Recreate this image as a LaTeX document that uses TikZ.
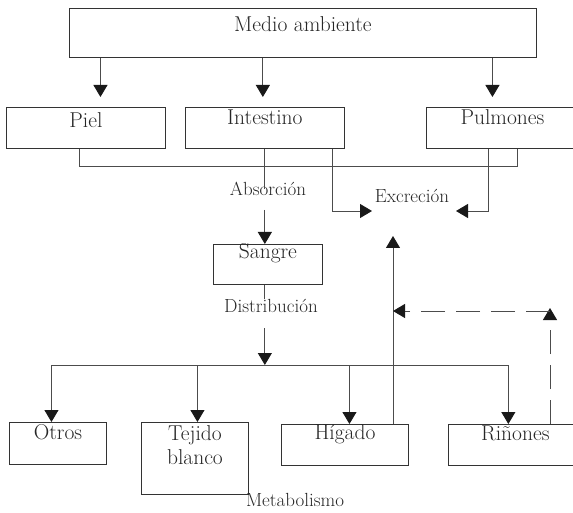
\documentclass[tikz,border=0pt]{standalone}
\usepackage{tikz}
\usetikzlibrary{arrows.meta,positioning}

\begin{document}
\begin{tikzpicture}[
    x=1pt, y=1pt, text=black!85,
    box/.style={draw=black!80, line width=0.9pt, inner sep=0pt, align=center,
                font=\fontsize{21.5}{24}\selectfont},
    lbl/.style={inner sep=0pt, anchor=base, font=\fontsize{19}{22}\selectfont},
    link/.style={draw=black!70, line width=0.9pt},
    arr/.style={link, -{Triangle[length=12pt, width=14pt, color=black!90]}},
    dashpat/.style={dash pattern=on 24pt off 11pt}
]
\useasboundingbox (0,0) rectangle (573,-513);

% boxes
\node[box, anchor=north west, minimum width=467pt, text height=23pt, text depth=26pt] (medio) at (69,-8) {Medio ambiente};
\node[box, anchor=north west, minimum width=159pt, text height=20pt, text depth=21pt] (piel) at (6,-107) {Piel};
\node[box, right=19pt of piel, minimum width=159pt, text height=17pt, text depth=24pt] (intestino) {Intestino};
\node[box, anchor=north west, minimum width=152pt, text height=17pt, text depth=24pt] (pulmones) at (426,-107) {Pulmones};
\node[box, anchor=north west, minimum width=109pt, text height=14pt, text depth=26pt] (sangre) at (213,-244) {Sangre};
\node[box, anchor=north west, minimum width=97pt, text height=17pt, text depth=25pt] (otros) at (9,-422) {Otros};
\node[box, anchor=north west, minimum width=107pt, text height=42pt, text depth=30pt] (tejido) at (141,-422) {Tejido\\blanco};
\node[box, anchor=north west, minimum width=127pt, text height=15pt, text depth=26pt] (higado) at (281,-424) {Hígado};
\node[box, right=39pt of higado, minimum width=134pt, text height=16pt, text depth=25pt] (rinones) {Riñones};

% labels
\node[lbl] (absorcion) at (268,-196) {Absorción};
\node[lbl] (excrecion) at (412,-203) {Excreción};
\node[lbl] (distribucion) at (271,-312) {Distribución};
\node[lbl] (metabolismo) at (295,-506) {Metabolismo};

\coordinate (bus) at (intestino.south |- 0,-365);
\coordinate (excl) at (372,-211);
\coordinate (excr) at (456,-211);
\coordinate (exctip) at (393,-236);
\coordinate (dtop) at (550,-308);
\coordinate (dcorner) at (550,-311);

% entrada
\draw[arr, shorten >=10pt] ([xshift=14.5pt]piel.north |- medio.south) -- ([xshift=14.5pt]piel.north);
\draw[arr, shorten >=10pt] ([xshift=-2pt]intestino.north |- medio.south) -- ([xshift=-2pt]intestino.north);
\draw[arr, shorten >=10pt] ([xshift=-10pt]pulmones.north |- medio.south) -- ([xshift=-10pt]pulmones.north);
\draw[link] ([xshift=-6.5pt]piel.south) -- ++(0,-18) -| ([xshift=15pt]pulmones.south);

% absorcion y distribucion
\draw[link] (intestino.south) -- (intestino.south |- absorcion.center);
\draw[arr] ([yshift=-14pt]intestino.south |- absorcion.base) -- (intestino.south |- sangre.north);
\draw[link] (intestino.south |- sangre.south) -- (intestino.south |- distribucion.north);
\draw[arr] ([yshift=-16pt]intestino.south |- distribucion.base) -- (bus);
\draw[link] ([xshift=-6.5pt]otros.north |- bus) -- ([xshift=-7pt]rinones.north |- bus);
\draw[arr] ([xshift=-6.5pt]otros.north |- bus) -- ([xshift=-6.5pt]otros.north);
\draw[arr] ([xshift=2.5pt]tejido.north |- bus) -- ([xshift=2.5pt]tejido.north);
\draw[arr] ([xshift=4.5pt]higado.north |- bus) -- ([xshift=4.5pt]higado.north);
\draw[arr] ([xshift=-7pt]rinones.north |- bus) -- ([xshift=-7pt]rinones.north);

% excrecion
\draw[arr] ([xshift=-12pt]intestino.south east) |- (excl);
\draw[arr] ([xshift=-14pt]pulmones.south) |- (excr);
\draw[arr] (exctip |- higado.north) -- (exctip);
\draw[arr, dashpat] (dtop |- rinones.north) -- (dtop);
\draw[arr, dashpat] (dcorner) -- (exctip |- dcorner);
\end{tikzpicture}
\end{document}
